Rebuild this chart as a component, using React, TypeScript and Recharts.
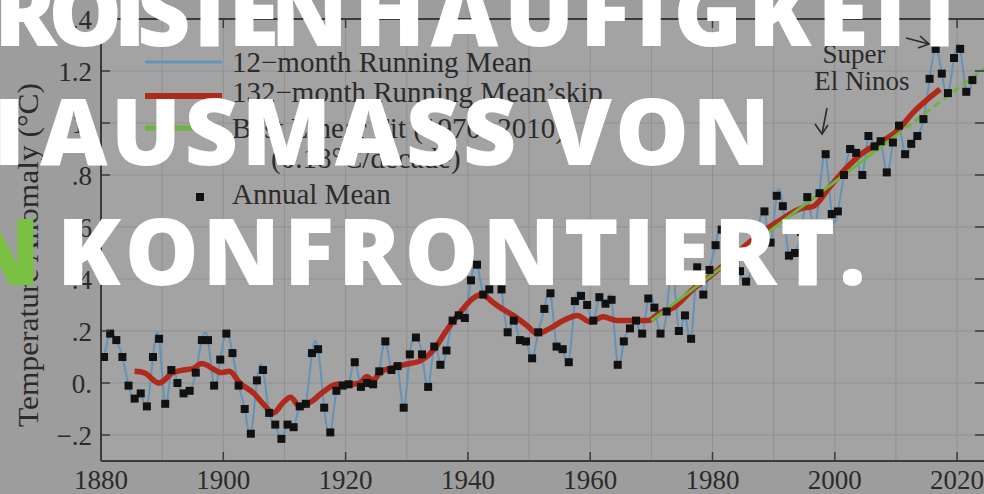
import React from "react";
import {
  ComposedChart,
  Line,
  Scatter,
  XAxis,
  YAxis,
  CartesianGrid,
  ReferenceLine,
} from "recharts";

// annual mean anomaly, one value per year starting 1880
const firstYear = 1880;
const annualMean = [
  0.1, 0.19, 0.165, 0.1, -0.01, -0.06, -0.04, -0.09, 0.1, 0.17,
  -0.08, 0.05, 0.0, -0.04, -0.03, 0.04, 0.165, 0.165, -0.01, 0.09,
  0.19, 0.115, -0.01, -0.1, -0.195, 0.01, 0.05, -0.115, -0.16, -0.215,
  -0.16, -0.17, -0.09, -0.08, 0.115, 0.13, -0.095, -0.19, -0.03, -0.01,
  -0.005, 0.08, -0.015, 0.0, -0.005, 0.045, 0.16, 0.05, 0.065, -0.095,
  0.11, 0.175, 0.11, -0.015, 0.14, 0.07, 0.125, 0.24, 0.26, 0.25,
  0.395, 0.455, 0.34, 0.36, 0.46, 0.36, 0.195, 0.24, 0.165, 0.16,
  0.095, 0.195, 0.285, 0.345, 0.14, 0.13, 0.08, 0.315, 0.335, 0.3,
  0.24, 0.33, 0.305, 0.32, 0.07, 0.16, 0.21, 0.24, 0.19, 0.325,
  0.29, 0.19, 0.275, 0.435, 0.2, 0.26, 0.17, 0.445, 0.34, 0.435,
  0.53, 0.59, 0.42, 0.58, 0.43, 0.39, 0.45, 0.59, 0.66, 0.54,
  0.72, 0.68, 0.49, 0.5, 0.58, 0.715, 0.6, 0.73, 0.88, 0.65,
  0.66, 0.8, 0.9, 0.885, 0.8, 0.95, 0.91, 0.93, 0.81, 0.925,
  0.99, 0.88, 0.92, 0.95, 1.015, 1.17, 1.285, 1.19, 1.115, 1.25,
  1.285, 1.12, 1.165,
];

// 132-month running mean
const slowYears = [
  1885.5, 1887, 1889.5, 1891.8, 1893.5, 1895, 1896.5, 1898.3, 1899.5, 1901,
  1902.7, 1905, 1906.5, 1908.2, 1909.8, 1911, 1912.5, 1914.5, 1916.3, 1918.6,
  1920.7, 1922.3, 1923.5, 1924.5, 1925.6, 1927.8, 1930.5, 1932.2, 1934.3, 1936.6,
  1938.7, 1940.8, 1942.3, 1944.1, 1945.3, 1947.4, 1949.7, 1951.3, 1953.4, 1955.6,
  1957.9, 1960, 1962.1, 1964.4, 1967, 1969.5, 1971.4, 1973.6, 1976.8, 1980.1,
  1984.5, 1987.8, 1991, 1994.3, 1996.5, 1999.2, 2002, 2004.6, 2007.4, 2010.2,
  2012.8, 2015.1, 2017.2,
];
const slowMean = [
  0.045, 0.04, 0.0, 0.04, 0.05, 0.055, 0.075, 0.055, 0.04, 0.045,
  0.0, -0.04, -0.08, -0.115, -0.075, -0.055, -0.09, -0.07, -0.035, -0.005,
  -0.005, 0.0, 0.025, 0.01, 0.04, 0.06, 0.075, 0.085, 0.125, 0.205,
  0.27, 0.325, 0.34, 0.31, 0.29, 0.26, 0.22, 0.19, 0.21, 0.24,
  0.26, 0.235, 0.255, 0.24, 0.24, 0.24, 0.27, 0.29, 0.36, 0.42,
  0.51, 0.575, 0.625, 0.67, 0.68, 0.755, 0.83, 0.885, 0.925, 0.97,
  1.04, 1.09, 1.13,
];

// linear fit 1970-2010 and its extension
const fitYears = [1970, 2010];
const fitValues = [0.24, 0.952];
const extYears = [2010, 2024.4];
const extValues = [0.952, 1.21];

const xTicks = [1880, 1900, 1920, 1940, 1960, 1980, 2000, 2020];
const gridYears = [1880, 1890, 1900, 1910, 1920, 1930, 1940, 1950, 1960, 1970, 1980, 1990, 2000, 2010, 2020];
const yTicks = [-0.2, 0, 0.2, 0.4, 0.6, 0.8, 1.0, 1.2, 1.4];
const yTickLabels = ["\u2212.2", "0.", ".2", ".4", ".6", ".8", "1.", "1.2", "1.4"];

const annualData = annualMean.map((v, i) => ({ year: firstYear + i + 0.5, v }));
const slowData = slowYears.map((year, i) => ({ year, v: slowMean[i] }));
const fitData = fitYears.map((year, i) => ({ year, v: fitValues[i] }));
const extData = extYears.map((year, i) => ({ year, v: extValues[i] }));

const PLOT_TOP = 19;
const PLOT_RIGHT = 984;
const serif = '"Liberation Serif", "Times New Roman", serif';
const sans = '"Open Sans", "Noto Sans", sans-serif';
const ink = "#2b2b2b";
const frame = "#3a3a3a";

const XTick = (props: any) => {
  const { x, y, payload } = props;
  return (
    <g>
      <line x1={x} x2={x} y1={y} y2={y - 9} stroke={frame} strokeWidth={1.5} />
      <line x1={x} x2={x} y1={PLOT_TOP} y2={PLOT_TOP + 9} stroke={frame} strokeWidth={1.5} />
      <text x={x} y={y + 28} textAnchor="middle" fontFamily={serif} fontSize={27} fill={ink}>
        {payload.value}
      </text>
    </g>
  );
};

const YTick = (props: any) => {
  const { x, y, payload } = props;
  const idx = yTicks.findIndex((t) => Math.abs(t - payload.value) < 1e-6);
  return (
    <g>
      <line x1={x} x2={x + 9} y1={y} y2={y} stroke={frame} strokeWidth={1.5} />
      <line x1={PLOT_RIGHT} x2={PLOT_RIGHT - 9} y1={y} y2={y} stroke={frame} strokeWidth={1.5} />
      <text x={x - 9} y={y + 10} textAnchor="end" fontFamily={serif} fontSize={27} fill={ink}>
        {yTickLabels[idx]}
      </text>
    </g>
  );
};

const Square = (p: any) => <rect x={p.cx - 4} y={p.cy - 4} width={8} height={8} fill="#111" />;

const App: React.FC = () => {
  return (
    <div style={{ position: "absolute", left: 0, top: 0, width: 984, height: 494, overflow: "hidden", background: "#9d9d9d" }}>
      <ComposedChart width={984} height={494} margin={{ top: 19, right: 0, bottom: 0, left: 0 }}>
        <CartesianGrid
          fill="#a3a3a3"
          fillOpacity={1}
          stroke="#909090"
          strokeWidth={1}
          verticalValues={gridYears}
          horizontalValues={yTicks}
        />
        <XAxis
          type="number"
          dataKey="year"
          domain={[1880, 2024.4]}
          allowDataOverflow
          ticks={xTicks}
          height={33}
          tickSize={0}
          tickMargin={0}
          tick={<XTick />}
          axisLine={{ stroke: frame, strokeWidth: 2 }}
        />
        <YAxis
          type="number"
          domain={[-0.3, 1.4]}
          allowDataOverflow
          ticks={yTicks}
          width={101}
          tickSize={0}
          tickMargin={0}
          tick={<YTick />}
          axisLine={{ stroke: frame, strokeWidth: 2 }}
        />
        <ReferenceLine y={1.4} stroke={frame} strokeWidth={2} />
        <Line data={annualData} dataKey="v" type="natural" stroke="#6393b8" strokeWidth={2} dot={false} activeDot={false} isAnimationActive={false} />
        <Line data={slowData} dataKey="v" type="monotone" stroke="#b02a1c" strokeWidth={5.5} dot={false} activeDot={false} isAnimationActive={false} />
        <Line data={fitData} dataKey="v" type="linear" stroke="#6db33f" strokeWidth={3} dot={false} activeDot={false} isAnimationActive={false} />
        <Line data={extData} dataKey="v" type="linear" stroke="#6db33f" strokeWidth={3} strokeDasharray="7 5" dot={false} activeDot={false} isAnimationActive={false} />
        <Scatter data={annualData} dataKey="v" shape={<Square />} isAnimationActive={false} />
      </ComposedChart>

      <svg width={984} height={494} style={{ position: "absolute", left: 0, top: 0, pointerEvents: "none" }}>
        <text transform="translate(38,255) rotate(-90)" textAnchor="middle" fontFamily={serif} fontSize={29} fill={ink} textLength={344} lengthAdjust="spacingAndGlyphs">
          Temperature Anomaly (°C)
        </text>

        {/* legend */}
        <line x1={145} x2={222} y1={62} y2={62} stroke="#6393b8" strokeWidth={3} />
        <line x1={145} x2={222} y1={96} y2={96} stroke="#b02a1c" strokeWidth={6} />
        <line x1={145} x2={222} y1={128} y2={128} stroke="#6db33f" strokeWidth={5} />
        <rect x={196} y={193} width={8} height={8} fill="#111" />
        <g fontFamily={serif} fontSize={29} fill={ink}>
          <text x={232} y={72}>12−month Running Mean</text>
          <text x={232} y={102}>132−month Running Mean’skip</text>
          <text x={232} y={138}>Best Linear Fit (1970−2010)</text>
          <text x={271} y={168}>(0.18°C/decade)</text>
          <text x={232} y={204}>Annual Mean</text>
        </g>

        {/* annotation */}
        <g fontFamily={serif} fontSize={27} fill={ink} textAnchor="middle">
          <text x={854} y={63}>Super</text>
          <text x={862} y={90}>El Ninos</text>
        </g>
        <g stroke={ink} strokeWidth={1.6} fill="none">
          <path d="M827 108 L822 134" />
          <path d="M815 124 L822 134 L828 125" />
          <path d="M906 38 L929 44" />
          <path d="M920 36 L929 44 L918 48" />
        </g>

        {/* overlaid headline */}
        <g fontFamily={sans} fontWeight={780} fontSize={93} fill="#ffffff">
          <text x={-6} y={46} textLength={354} lengthAdjust="spacing">ROISTEN</text>
          <text x={354} y={46} textLength={613} lengthAdjust="spacing">HAUFIGKEIT</text>
          <text x={-7} y={165}>I</text>
          <text x={40} y={165} textLength={730} lengthAdjust="spacing">AUSMASS VON</text>
          <text x={57} y={285} textLength={809} lengthAdjust="spacing">KONFRONTIERT.</text>
        </g>
        <text x={-37} y={285} fontFamily={sans} fontWeight={780} fontSize={93} fill="#7ac143">N</text>
      </svg>
    </div>
  );
};

export default App;
